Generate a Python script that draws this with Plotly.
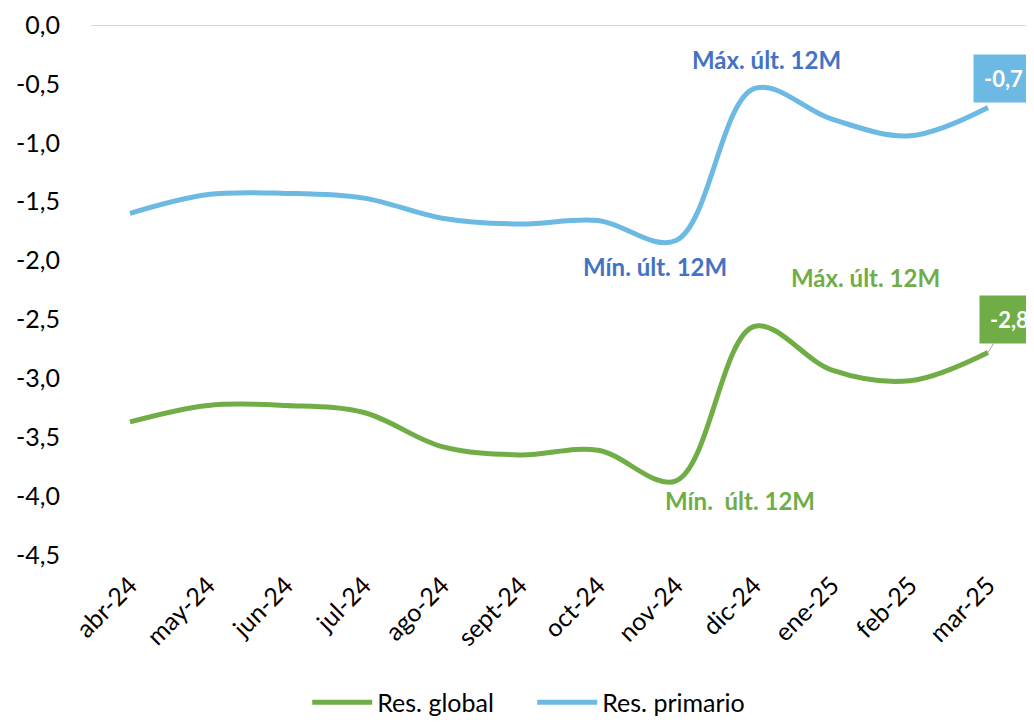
import plotly.graph_objects as go

months = ["abr-24", "may-24", "jun-24", "jul-24", "ago-24", "sept-24",
          "oct-24", "nov-24", "dic-24", "ene-25", "feb-25", "mar-25"]
res_global = [-3.37, -3.23, -3.23, -3.29, -3.58, -3.65, -3.61, -3.87, -2.56, -2.93, -3.02, -2.78]
res_primario = [-1.60, -1.44, -1.43, -1.47, -1.64, -1.69, -1.66, -1.83, -0.54, -0.80, -0.94, -0.70]
ytick_vals = [0, -0.5, -1, -1.5, -2, -2.5, -3, -3.5, -4, -4.5]
ytick_text = ["0,0", "-0,5", "-1,0", "-1,5", "-2,0", "-2,5", "-3,0", "-3,5", "-4,0", "-4,5"]

GREEN = "#70AD47"
BLUE = "#6CB9E3"
BLUE_TXT = "#4472C4"
FONT = "Lato"

fig = go.Figure()
fig.add_trace(go.Scatter(x=months, y=res_global, name="Res. global", mode="lines",
                         line=dict(color=GREEN, width=5, shape="spline", smoothing=1.0)))
fig.add_trace(go.Scatter(x=months, y=res_primario, name="Res. primario", mode="lines",
                         line=dict(color=BLUE, width=5, shape="spline", smoothing=1.0)))

def idx_max(v):
    return max(range(len(v)), key=lambda i: v[i])

def idx_min(v):
    return min(range(len(v)), key=lambda i: v[i])

ann_font = dict(family=FONT, size=24)
# Blue max / min
i = idx_max(res_primario)
fig.add_annotation(x=months[i], y=res_primario[i], text="<b>Máx. últ. 12M</b>", showarrow=False,
                   xshift=12, yshift=29, font=dict(ann_font, color=BLUE_TXT))
i = idx_min(res_primario)
fig.add_annotation(x=months[i], y=res_primario[i], text="<b>Mín. últ. 12M</b>", showarrow=False,
                   xshift=-21, yshift=-26, font=dict(ann_font, color=BLUE_TXT))
# Green max / min
i = idx_max(res_global)
fig.add_annotation(x=months[i], y=res_global[i], text="<b>Máx. últ. 12M</b>", showarrow=False,
                   xshift=111, yshift=49, font=dict(ann_font, color=GREEN))
i = idx_min(res_global)
fig.add_annotation(x=months[i], y=res_global[i], text="<b>Mín.  últ. 12M</b>", showarrow=False,
                   xshift=64, yshift=-20, font=dict(ann_font, color=GREEN))

def fmt(v):
    return f"{v:.1f}".replace(".", ",")

# Last value labels
fig.add_annotation(x=months[-1], y=res_primario[-1], text="<b>" + fmt(res_primario[-1]) + "</b>",
                   showarrow=False, xshift=15, yshift=29, bgcolor=BLUE, borderpad=10,
                   font=dict(family=FONT, size=22, color="white"))
fig.add_annotation(x=months[-1], y=res_global[-1], text="<b>" + fmt(res_global[-1]) + "</b>",
                   showarrow=True, arrowhead=0, arrowwidth=1, arrowcolor="#A6A6A6",
                   ax=21, ay=-33, bgcolor=GREEN, borderpad=10,
                   font=dict(family=FONT, size=22, color="white"))

fig.update_layout(
    width=1034, height=722,
    margin=dict(l=83, r=15, t=17, b=175, autoexpand=False),
    paper_bgcolor="white", plot_bgcolor="white",
    font=dict(family=FONT, size=22, color="black"),
    showlegend=True,
    legend=dict(orientation="h", xref="container", yref="container", x=0.507, y=0.038,
                xanchor="center", yanchor="middle", font=dict(family=FONT, size=25),
                itemwidth=60, entrywidth=150, entrywidthmode="pixels", tracegroupgap=0),
)
fig.update_xaxes(type="category", range=[-0.5, len(months) - 0.5], showgrid=False,
                 showline=False, zeroline=False,
                 tickangle=-45, tickfont=dict(family=FONT, size=25), ticks="",
                 ticklabelstandoff=10)
fig.update_yaxes(range=[-4.5, 0], tickvals=ytick_vals, ticktext=ytick_text, showgrid=False,
                 zeroline=True, zerolinecolor="#D9D9D9", zerolinewidth=1, showline=False,
                 ticks="", ticklabelstandoff=30, tickfont=dict(family=FONT, size=25))

fig.write_html("out.html")
